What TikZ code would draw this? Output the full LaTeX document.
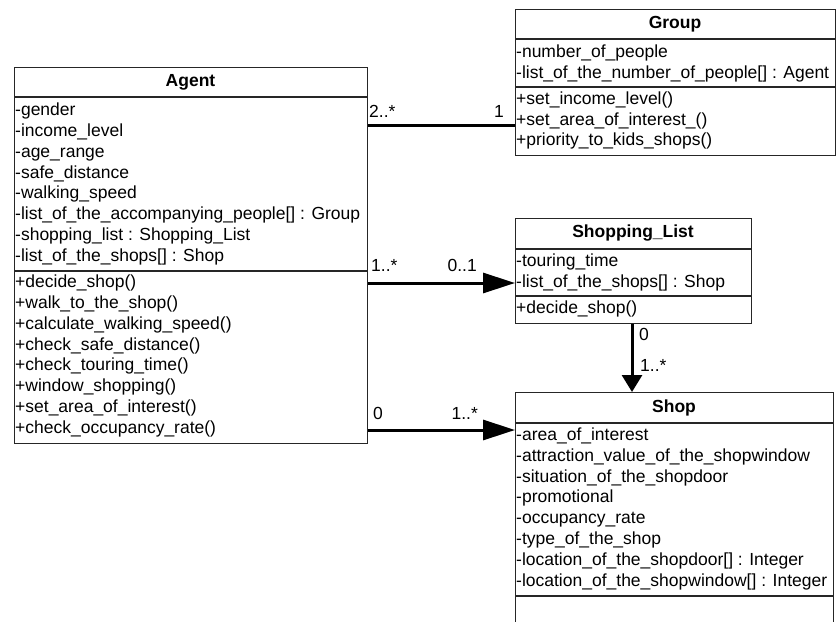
\documentclass[tikz,border=0pt]{standalone}
\usepackage{fontspec}
\setmainfont{Liberation Sans}
\usetikzlibrary{arrows.meta}
\tikzset{
  classbox/.style={draw=black!85, line width=1.2pt, fill=white, anchor=north west, inner sep=0pt, minimum width=#1},
  divider/.style={draw=black!85, line width=1.2pt},
  row/.style={anchor=west, inner sep=1pt, font=\fontsize{17.5}{19}\selectfont, text height=12.5pt, text depth=3.5pt},
  title/.style={inner sep=1pt, font=\fontsize{17.5}{19}\selectfont\bfseries},
  mult/.style={inner sep=0pt, font=\fontsize{17.5}{19}\selectfont, text height=12.5pt, text depth=3.5pt},
  assoc/.style={line width=3pt, draw=black},
  nav/.style={line width=3pt, draw=black, -{Triangle[length=32pt,width=20pt]}},
  navv/.style={line width=3pt, draw=black, -{Triangle[length=17pt,width=20pt]}}
}
\begin{document}
\begin{tikzpicture}[x=1pt,y=-1pt]
\useasboundingbox (0,0) rectangle (837,621);
\clip (0,0) rectangle (837,621);

% ---------- Agent ----------
\node[classbox=353pt, minimum height=376pt] (agent) at (14,67) {};
\draw[divider] (14,97) -- (367,97);
\draw[divider] (14,271) -- (367,271);
\node[title] (agentT) at (190.5,82) {Agent};
\foreach \t [count=\i from 0] in {-gender,-income\_level,-age\_range,-safe\_distance,-walking\_speed,-list\_of\_the\_accompanying\_people[] : Group,-shopping\_list : Shopping\_List,-list\_of\_the\_shops[] : Shop}
  \node[row] (agentA\i) at (14,111+20.85*\i) {\t};
\foreach \t [count=\i from 0] in {+decide\_shop(),+walk\_to\_the\_shop(),+calculate\_walking\_speed(),+check\_safe\_distance(),+check\_touring\_time(),+window\_shopping(),+set\_area\_of\_interest(),+check\_occupancy\_rate()}
  \node[row] (agentM\i) at (14,283+20.85*\i) {\t};

% ---------- Group ----------
\node[classbox=320pt, minimum height=146pt] (group) at (515,9) {};
\draw[divider] (515,39) -- (835,39);
\draw[divider] (515,87) -- (835,87);
\node[title] (groupT) at (675,24) {Group};
\foreach \t [count=\i from 0] in {-number\_of\_people,-list\_of\_the\_number\_of\_people[] : Agent}
  \node[row] (groupA\i) at (515,53+20.5*\i) {\t};
\foreach \t [count=\i from 0] in {+set\_income\_level(),+set\_area\_of\_interest\_(),+priority\_to\_kids\_shops()}
  \node[row] (groupM\i) at (515,100+20.5*\i) {\t};

% ---------- Shopping_List ----------
\node[classbox=236pt, minimum height=105pt] (slist) at (515,218) {};
\draw[divider] (515,249) -- (751,249);
\draw[divider] (515,296) -- (751,296);
\node[title] (slistT) at (633,233.5) {Shopping\_List};
\foreach \t [count=\i from 0] in {-touring\_time,-list\_of\_the\_shops[] : Shop}
  \node[row] (slistA\i) at (515,262+20.5*\i) {\t};
\node[row] (slistM0) at (515,309) {+decide\_shop()};

% ---------- Shop ----------
\node[classbox=318pt, minimum height=260pt] (shop) at (515,392) {};
\draw[divider] (515,423) -- (833,423);
\draw[divider] (515,596) -- (833,596);
\node[title] (shopT) at (674,407.5) {Shop};
\foreach \t [count=\i from 0] in {-area\_of\_interest,-attraction\_value\_of\_the\_shopwindow,-situation\_of\_the\_shopdoor,-promotional,-occupancy\_rate,-type\_of\_the\_shop,-location\_of\_the\_shopdoor[] : Integer,-location\_of\_the\_shopwindow[] : Integer}
  \node[row] (shopA\i) at (515,436+20.8*\i) {\t};

% ---------- connectors ----------
\draw[assoc] (agent.east |- 0,125) -- (group.west |- 0,125);
\node[mult, anchor=west] (m1) at (369,113) {2..*};
\node[mult, anchor=east] (m2) at (504,113) {1};

\draw[nav] (agent.east |- 0,283) -- (slist.west |- 0,283);
\node[mult, anchor=west] (m3) at (371,267) {1..*};
\node[mult, anchor=east] (m4) at (477,267) {0..1};

\draw[nav] (agent.east |- 0,430) -- (shop.west |- 0,430);
\node[mult, anchor=west] (m5) at (373,415) {0};
\node[mult, anchor=east] (m6) at (478,415) {1..*};

\draw[navv] (slist.south -| 632,0) -- (shop.north -| 632,0);
\node[mult, anchor=west] (m7) at (639,336) {0};
\node[mult, anchor=west] (m8) at (640,367) {1..*};
\end{tikzpicture}
\end{document}
